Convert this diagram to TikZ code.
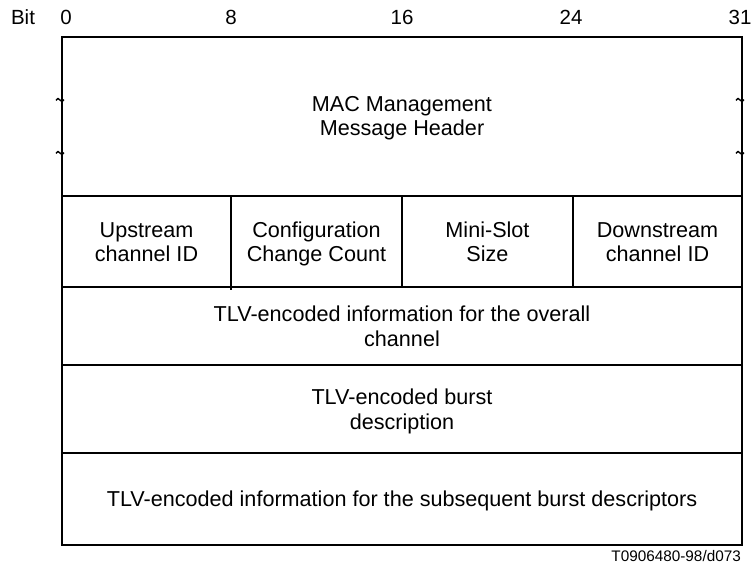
\documentclass[tikz,border=0pt]{standalone}
\usepackage{fontspec}
\setmainfont{Liberation Sans}
\begin{document}
\begin{tikzpicture}[x=1pt,y=-1pt,
  lbl/.style={inner sep=0pt, align=center, font=\fontsize{21.6}{24.5}\selectfont},
  bitlbl/.style={inner sep=0pt, font=\fontsize{20.5}{22}\selectfont},
  tld/.style={line width=1.4pt},
  outer/.style={line width=1.4pt},
  thick row/.style={line width=2.4pt},
  row/.style={line width=1.9pt}]
\useasboundingbox (0,0) rectangle (752,565);
% bit labels
\node[bitlbl] (bit) at (23,17) {Bit};
\node[bitlbl] (b0) at (66,17) {0};
\node[bitlbl] (b8) at (231,17) {8};
\node[bitlbl] (b16) at (402,17) {16};
\node[bitlbl] (b24) at (571,17) {24};
\node[bitlbl] (b31) at (740,17) {31};
% corner coordinates
\coordinate (tl) at (62,37);
\coordinate (br) at (742,545);
\draw[outer] (tl) rectangle (br);
% row separators
\coordinate (h1l) at (62,196); \coordinate (h1r) at (742,196);
\coordinate (h2l) at (62,287); \coordinate (h2r) at (742,287);
\coordinate (h3l) at (62,365); \coordinate (h3r) at (742,365);
\coordinate (h4l) at (62,453); \coordinate (h4r) at (742,453);
\draw[thick row] (h1l) -- (h1r);
\draw[thick row] (h2l) -- (h2r);
\draw[row] (h3l) -- (h3r);
\draw[row] (h4l) -- (h4r);
% column dividers
\coordinate (d1t) at (231,197); \coordinate (d1b) at (231,290);
\coordinate (d2t) at (402,197); \coordinate (d2b) at (402,287);
\coordinate (d3t) at (573,197); \coordinate (d3b) at (573,287);
\draw[row] (d1t) -- (d1b);
\draw[row] (d2t) -- (d2b);
\draw[row] (d3t) -- (d3b);
% tildes (break marks)
\foreach \tx/\ty in {60/100, 60/153, 740/100, 740/153}{
  \draw[tld] (\tx-4,\ty+0.3) sin (\tx-2,\ty-1.5) cos (\tx,\ty) sin (\tx+2,\ty+1.5) cos (\tx+4,\ty-0.3);
}
% field texts
\node[lbl] (hdr) at (402,118.5) {\strut MAC Management\\\strut Message Header};
\node[lbl] (up) at (146.5,244.5) {\strut Upstream\\\strut channel ID};
\node[lbl] (ccc) at (316.5,244.5) {\strut Configuration\\\strut Change Count};
\node[lbl] (mss) at (487.5,244.5) {\strut Mini-Slot\\\strut Size};
\node[lbl] (dn) at (657.5,244.5) {\strut Downstream\\\strut channel ID};
\node[lbl] (tlv1) at (402,329) {\strut TLV-encoded information for the overall\\\strut channel};
\node[lbl] (tlv2) at (402,412) {\strut TLV-encoded burst\\\strut description};
\node[lbl] (tlv3) at (402,502) {\strut TLV-encoded information for the subsequent burst descriptors};
\node[inner sep=0pt, anchor=east, font=\fontsize{15.3}{16}\selectfont] (ref) at (741,556) {T0906480-98/d073};
\end{tikzpicture}
\end{document}
